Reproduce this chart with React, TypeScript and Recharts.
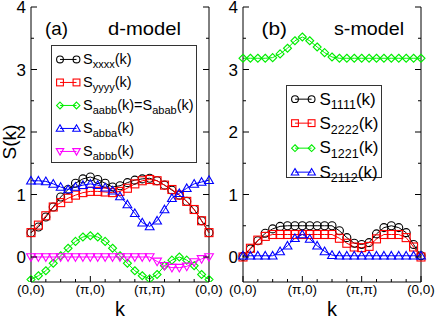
import React from "react";
import { LineChart, Line, XAxis, YAxis, ReferenceLine, Legend } from "recharts";

// no serif face renders in the sandbox, so use an Arial-metric sans sized to the reference widths
const FONT = '"Liberation Sans", Arial, sans-serif';

// k path index: (0,0) -> (pi,0) -> (pi,pi) -> (0,0), 8 steps per leg
const kIndex = [0, 1, 2, 3, 4, 5, 6, 7, 8, 9, 10, 11, 12, 13, 14, 15, 16, 17, 18, 19, 20, 21, 22, 23, 24];
const kTicks = [0, 2, 4, 6, 8, 10, 12, 14, 16, 18, 20, 22, 24];
const kMajor = [0, 8, 16, 24];
const kLabels = ["(0,0)", "(π,0)", "(π,π)", "(0,0)"];
const sTicks = [0, 0.5, 1, 1.5, 2, 2.5, 3, 3.5, 4];
const sMajor = [0, 1, 2, 3, 4];

// (a) d-model
const sXxxx = [0.39, 0.48, 0.64, 0.8, 0.96, 1.08, 1.18, 1.25, 1.28, 1.24, 1.18, 1.12, 1.14, 1.19, 1.23, 1.25, 1.26, 1.22, 1.15, 1.07, 0.99, 0.89, 0.76, 0.58, 0.39];
const sYyyy = [0.39, 0.51, 0.66, 0.8, 0.87, 0.94, 0.99, 1.03, 1.05, 1.05, 1.04, 1.03, 1.05, 1.1, 1.17, 1.22, 1.24, 1.22, 1.15, 1.08, 0.99, 0.89, 0.76, 0.58, 0.39];
const sAabb = [-0.36, -0.3, -0.22, -0.1, 0.02, 0.14, 0.25, 0.32, 0.34, 0.32, 0.25, 0.14, 0.02, -0.1, -0.22, -0.3, -0.35, -0.28, -0.14, -0.05, 0.0, -0.05, -0.14, -0.28, -0.36];
const sAbba = [1.22, 1.22, 1.21, 1.17, 1.12, 1.08, 1.12, 1.15, 1.17, 1.15, 1.11, 1.06, 0.97, 0.84, 0.7, 0.55, 0.49, 0.58, 0.76, 0.94, 1.02, 1.1, 1.17, 1.2, 1.23];
const sAbbb = [0, 0, 0, 0, 0, 0, 0, 0, 0, 0, 0, 0, 0, 0, 0, 0, 0, -0.07, -0.14, -0.17, -0.17, -0.15, -0.08, -0.03, 0.0];

// (b) s-model
const s1111 = [0.01, 0.13, 0.26, 0.38, 0.45, 0.49, 0.5, 0.5, 0.5, 0.5, 0.5, 0.5, 0.5, 0.42, 0.31, 0.22, 0.2, 0.23, 0.37, 0.47, 0.5, 0.47, 0.39, 0.2, 0.02];
const s2222 = [0.0, 0.14, 0.27, 0.33, 0.36, 0.36, 0.36, 0.36, 0.36, 0.36, 0.36, 0.36, 0.36, 0.3, 0.22, 0.16, 0.15, 0.17, 0.29, 0.36, 0.36, 0.36, 0.31, 0.16, 0.0];
const s1221 = [3.18, 3.18, 3.18, 3.18, 3.19, 3.25, 3.34, 3.46, 3.52, 3.46, 3.36, 3.27, 3.2, 3.18, 3.18, 3.18, 3.18, 3.18, 3.18, 3.18, 3.18, 3.18, 3.18, 3.18, 3.18];
const s2112 = [0.02, 0.02, 0.02, 0.02, 0.02, 0.09, 0.18, 0.3, 0.36, 0.29, 0.18, 0.09, 0.03, 0.02, 0.02, 0.02, 0.02, 0.02, 0.02, 0.02, 0.02, 0.02, 0.02, 0.02, 0.02];

const dataA = kIndex.map((k, i) => ({ k, xxxx: sXxxx[i], yyyy: sYyyy[i], aabb: sAabb[i], abba: sAbba[i], abbb: sAbbb[i] }));
const dataB = kIndex.map((k, i) => ({ k, s1111: s1111[i], s2222: s2222[i], s1221: s1221[i], s2112: s2112[i] }));

type Seg = { t: string; sub?: boolean };
type Series = { key: string; color: string; shape: string; label: Seg[] };

const seriesA: Series[] = [
  { key: "xxxx", color: "#000000", shape: "circle", label: [{ t: "S" }, { t: "xxxx", sub: true }, { t: "(k)" }] },
  { key: "yyyy", color: "#ff0000", shape: "square", label: [{ t: "S" }, { t: "yyyy", sub: true }, { t: "(k)" }] },
  { key: "aabb", color: "#00ee00", shape: "diamond", label: [{ t: "S" }, { t: "aabb", sub: true }, { t: "(k)=S" }, { t: "abab", sub: true }, { t: "(k)" }] },
  { key: "abba", color: "#0000ff", shape: "up", label: [{ t: "S" }, { t: "abba", sub: true }, { t: "(k)" }] },
  { key: "abbb", color: "#ff00ff", shape: "down", label: [{ t: "S" }, { t: "abbb", sub: true }, { t: "(k)" }] },
];

const seriesB: Series[] = [
  { key: "s1111", color: "#000000", shape: "circle", label: [{ t: "S" }, { t: "1111", sub: true }, { t: "(k)" }] },
  { key: "s2222", color: "#ff0000", shape: "square", label: [{ t: "S" }, { t: "2222", sub: true }, { t: "(k)" }] },
  { key: "s1221", color: "#00ee00", shape: "diamond", label: [{ t: "S" }, { t: "1221", sub: true }, { t: "(k)" }] },
  { key: "s2112", color: "#0000ff", shape: "up", label: [{ t: "S" }, { t: "2112", sub: true }, { t: "(k)" }] },
];

const PW = 178; // plot width

function Marker({ cx, cy, shape, color, s = 1 }: { cx: number; cy: number; shape: string; color: string; s?: number }) {
  const common = { fill: "none", stroke: color, strokeWidth: 1.1 };
  if (shape === "circle") return <circle cx={cx} cy={cy} r={4 * s} {...common} />;
  if (shape === "square") return <rect x={cx - 4 * s} y={cy - 4 * s} width={8 * s} height={8 * s} {...common} />;
  if (shape === "diamond") {
    const d = 4 * s;
    return <polygon points={`${cx},${cy - d} ${cx + d},${cy} ${cx},${cy + d} ${cx - d},${cy}`} {...common} />;
  }
  if (shape === "up") {
    return <polygon points={`${cx},${cy - 4.3 * s} ${cx + 4.4 * s},${cy + 3.3 * s} ${cx - 4.4 * s},${cy + 3.3 * s}`} {...common} />;
  }
  return <polygon points={`${cx},${cy + 4.3 * s} ${cx + 4.4 * s},${cy - 3.3 * s} ${cx - 4.4 * s},${cy - 3.3 * s}`} {...common} />;
}

const makeDot = (shape: string, color: string) => (p: any) =>
  <Marker key={`${shape}-${p.index}`} cx={p.cx} cy={p.cy} shape={shape} color={color} />;

function XTick(props: any) {
  const { x, y, payload } = props;
  const m = kMajor.indexOf(payload.value);
  return (
    <g>
      <line x1={x} x2={x} y1={y} y2={y - (m >= 0 ? 6 : 3)} stroke="#000" />
      {m >= 0 && (
        <text x={x} y={y + 12} textAnchor="middle" fontSize={13.5} style={{ fontFamily: FONT }} fill="#000">
          {kLabels[m]}
        </text>
      )}
    </g>
  );
}

function YTick(props: any) {
  const { x, y, payload } = props;
  const major = sMajor.includes(payload.value);
  const len = major ? 6 : 3;
  return (
    <g>
      <line x1={x} x2={x + len} y1={y} y2={y} stroke="#000" />
      <line x1={x + PW} x2={x + PW - len} y1={y} y2={y} stroke="#000" />
      {major && (
        <text x={x - 5} y={y + 6} textAnchor="end" fontSize={17} style={{ fontFamily: FONT }} fill="#000">
          {payload.value}
        </text>
      )}
    </g>
  );
}

type LegendCfg = {
  left: number; top: number; width: number; height: number;
  rowH: number; padTop: number; fontSize: number; subSize: number;
  iconW: number; m1: number; m2: number;
};

function LegendBox({ items, cfg }: { items: Series[]; cfg: LegendCfg }) {
  return (
    <div style={{ width: cfg.width, height: cfg.height, boxSizing: "border-box", border: "1px solid #333", paddingTop: cfg.padTop, background: "#fff", fontFamily: FONT, color: "#000" }}>
      {items.map((it) => (
        <div key={it.key} style={{ display: "flex", alignItems: "center", height: cfg.rowH }}>
          <svg width={cfg.iconW} height={cfg.rowH} style={{ flex: "none", display: "block" }}>
            <line x1={cfg.m1} x2={cfg.m2} y1={cfg.rowH / 2} y2={cfg.rowH / 2} stroke={it.color} />
            <Marker cx={cfg.m1} cy={cfg.rowH / 2} shape={it.shape} color={it.color} s={0.85} />
            <Marker cx={cfg.m2} cy={cfg.rowH / 2} shape={it.shape} color={it.color} s={0.85} />
          </svg>
          <span style={{ fontSize: cfg.fontSize, lineHeight: 1, whiteSpace: "nowrap" }}>
            {it.label.map((seg, j) =>
              seg.sub ? (
                <span key={j} style={{ fontSize: cfg.subSize, position: "relative", top: cfg.subSize * 0.38 }}>{seg.t}</span>
              ) : (
                <span key={j}>{seg.t}</span>
              )
            )}
          </span>
        </div>
      ))}
    </div>
  );
}

function Panel({ data, series, width, marginRight, legend }: { data: any[]; series: Series[]; width: number; marginRight: number; legend: LegendCfg }) {
  return (
    <LineChart width={width} height={319} data={data} margin={{ top: 7, right: marginRight, bottom: 0, left: 0 }}>
      <XAxis
        dataKey="k"
        type="number"
        domain={[0, 24]}
        ticks={kTicks}
        interval={0}
        height={37}
        tickSize={0}
        tickMargin={0}
        tickLine={false}
        stroke="#000"
        tick={(p: any) => <XTick {...p} />}
        label={{ value: "k", position: "insideBottom", offset: 3, fontSize: 20, style: { fontFamily: FONT }, fill: "#000" }}
      />
      <YAxis
        type="number"
        domain={[-0.4, 4]}
        ticks={sTicks}
        interval={0}
        width={31}
        tickSize={0}
        tickMargin={0}
        tickLine={false}
        stroke="#000"
        allowDataOverflow
        tick={(p: any) => <YTick {...p} />}
      />
      <ReferenceLine x={24} stroke="#000" />
      {series.map((s) => (
        <Line
          key={s.key}
          type="linear"
          dataKey={s.key}
          stroke={s.color}
          strokeWidth={1}
          dot={makeDot(s.shape, s.color)}
          activeDot={false}
          isAnimationActive={false}
        />
      ))}
      <Legend
        layout="vertical"
        align="center"
        verticalAlign="middle"
        wrapperStyle={{ left: legend.left, top: legend.top, width: legend.width, height: legend.height }}
        content={() => <LegendBox items={series} cfg={legend} />}
      />
    </LineChart>
  );
}

const legendA: LegendCfg = { left: 51, top: 45, width: 146, height: 118, rowH: 22.9, padTop: 2, fontSize: 14.5, subSize: 11, iconW: 31, m1: 8, m2: 24.5 };
const legendB: LegendCfg = { left: 74, top: 85, width: 96, height: 93, rowH: 24.3, padTop: 1, fontSize: 17, subSize: 12.5, iconW: 32.5, m1: 8, m2: 24.6 };

export default function App() {
  return (
    <div style={{ position: "absolute", left: 0, top: 0, width: 436, height: 319, background: "#fff", overflow: "hidden", fontFamily: FONT }}>
      <div style={{ position: "absolute", left: 0, top: 0 }}>
        <Panel data={dataA} series={seriesA} width={230} marginRight={21} legend={legendA} />
      </div>
      <div style={{ position: "absolute", left: 212, top: 0 }}>
        <Panel data={dataB} series={seriesB} width={224} marginRight={15} legend={legendB} />
      </div>
      <svg width={436} height={319} style={{ position: "absolute", left: 0, top: 0, pointerEvents: "none", fontFamily: FONT }} fill="#000">
        <text x={16} y={142} transform="rotate(-90 16 142)" textAnchor="middle" fontSize={19}>S(k)</text>
        <text x={45} y={35} fontSize={19} textLength={23} lengthAdjust="spacingAndGlyphs">(a)</text>
        <text x={108} y={35} fontSize={19} textLength={73} lengthAdjust="spacingAndGlyphs">d-model</text>
        <text x={261.5} y={35} fontSize={19} textLength={25.5} lengthAdjust="spacingAndGlyphs">(b)</text>
        <text x={334} y={35} fontSize={19} textLength={70} lengthAdjust="spacingAndGlyphs">s-model</text>
      </svg>
    </div>
  );
}
